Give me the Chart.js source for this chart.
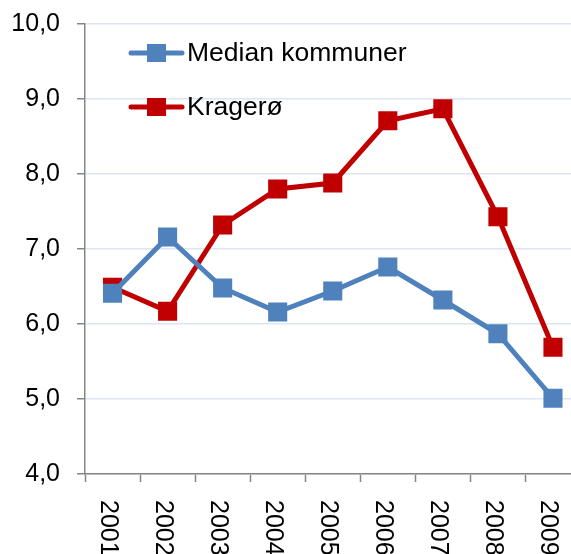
<!DOCTYPE html>
<html>
<head>
<meta charset="utf-8">
<script src="https://cdn.jsdelivr.net/npm/chart.js@4/dist/chart.umd.min.js"></script>
<style>
  html, body { margin: 0; padding: 0; overflow: hidden; background: #fff; }
  #wrap { width: 594px; height: 554px; }
</style>
</head>
<body>
<div id="wrap"><canvas id="chart" width="594" height="554"></canvas></div>
<script>
// data
var years = ["2001", "2002", "2003", "2004", "2005", "2006", "2007", "2008", "2009"];
var medianKommuner = [6.41, 7.16, 6.48, 6.16, 6.44, 6.76, 6.32, 5.87, 5.01];
var kragero = [6.49, 6.17, 7.32, 7.80, 7.88, 8.71, 8.87, 7.43, 5.69];
var seriesNames = ["Median kommuner", "Kragerø"];
var seriesColors = ["#4F81BD", "#C00000"];

var FONT = "Liberation Sans, Arial, sans-serif";

// rotated year labels (read top to bottom)
var xLabelsPlugin = {
  id: "xLabels",
  afterDraw: function (chart) {
    var ctx = chart.ctx;
    var xs = chart.scales.x;
    ctx.save();
    ctx.font = "25px " + FONT;
    ctx.fillStyle = "#000";
    ctx.textAlign = "left";
    ctx.textBaseline = "middle";
    for (var i = 0; i < years.length; i++) {
      var x = xs.getPixelForValue(i) - 5;
      ctx.save();
      ctx.translate(x, 500);
      ctx.rotate(Math.PI / 2);
      ctx.fillText(years[i], 0, 0);
      ctx.restore();
    }
    ctx.restore();
  }
};

// legend inside the plot, top left
var legendPlugin = {
  id: "innerLegend",
  afterDraw: function (chart) {
    var ctx = chart.ctx;
    ctx.save();
    ctx.font = "26.5px " + FONT;
    ctx.textBaseline = "middle";
    for (var i = 0; i < seriesNames.length; i++) {
      var y = 53 + i * 54;
      ctx.strokeStyle = seriesColors[i];
      ctx.lineWidth = 5;
      ctx.lineCap = "round";
      ctx.beginPath();
      ctx.moveTo(131, y);
      ctx.lineTo(182, y);
      ctx.stroke();
      ctx.fillStyle = seriesColors[i];
      ctx.fillRect(147, y - 9, 19, 18);
      ctx.fillStyle = "#000";
      ctx.fillText(seriesNames[i], 187, y + 1);
    }
    ctx.restore();
  }
};

new Chart(document.getElementById("chart").getContext("2d"), {
  type: "line",
  data: {
    labels: years,
    datasets: [
      {
        label: seriesNames[0],
        data: medianKommuner,
        borderColor: seriesColors[0],
        backgroundColor: seriesColors[0],
        borderWidth: 5,
        pointStyle: "rect",
        pointRadius: 13.5,
        pointBorderWidth: 0,
        tension: 0,
      },
      {
        label: seriesNames[1],
        data: kragero,
        borderColor: seriesColors[1],
        backgroundColor: seriesColors[1],
        borderWidth: 5,
        pointStyle: "rect",
        pointRadius: 13.5,
        pointBorderWidth: 0,
        tension: 0,
      },
    ],
  },
  options: {
    responsive: false,
    animation: false,
    events: [],
    layout: { padding: { top: 24, left: 0, right: 0, bottom: 0 } },
    plugins: {
      legend: { display: false },
      tooltip: { enabled: false },
    },
    scales: {
      x: {
        offset: true,
        grid: {
          offset: true,
          drawOnChartArea: false,
          drawTicks: true,
          tickLength: 8,
          tickColor: "#868686",
          tickWidth: 1.5,
        },
        border: { color: "#868686", width: 1.5 },
        ticks: { display: false },
        afterFit: function (scale) { scale.height = 80; },
      },
      y: {
        min: 4,
        max: 10,
        grid: {
          color: "#DCE6F2",
          lineWidth: 1.5,
          drawTicks: true,
          tickLength: 8,
          tickColor: "#868686",
          tickWidth: 1.5,
        },
        border: { color: "#868686", width: 1.5 },
        ticks: {
          stepSize: 1,
          padding: 17,
          color: "#000",
          font: { family: FONT, size: 25, lineHeight: 0.5 },
          callback: function (v) { return v.toFixed(1).replace(".", ","); },
        },
        afterFit: function (scale) { scale.width = 85; },
      },
    },
  },
  plugins: [xLabelsPlugin, legendPlugin],
});
</script>
</body>
</html>
